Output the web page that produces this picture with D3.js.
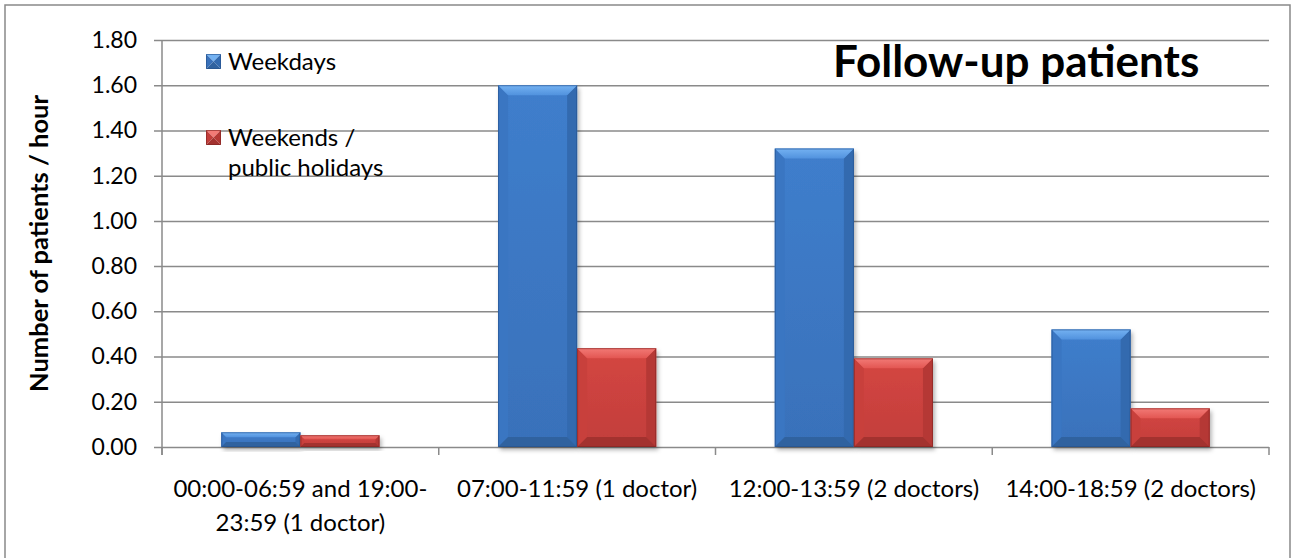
<!DOCTYPE html>
<html>
<head>
<meta charset="utf-8">
<script src="https://cdn.jsdelivr.net/npm/d3@7"></script>
<style>
  html, body { margin: 0; padding: 0; background: #fff; }
  svg { display: block; }
  text { font-family: Lato, "Open Sans", sans-serif; fill: #000; }
</style>
</head>
<body>
<svg id="chart" width="1299" height="558"></svg>
<script>
// Patients per hour by time slot
const categories = ["night", "morning", "midday", "afternoon"];
const categoryLabels = [
  ["00:00-06:59 and 19:00-", "23:59 (1 doctor)"],
  ["07:00-11:59 (1 doctor)"],
  ["12:00-13:59 (2 doctors)"],
  ["14:00-18:59 (2 doctors)"]
];
const seriesNames = ["Weekdays", "Weekends / public holidays"];
const weekdays = [0.065, 1.60, 1.32, 0.52];
const weekends = [0.052, 0.437, 0.392, 0.171];
const yTicks = [0, 0.2, 0.4, 0.6, 0.8, 1.0, 1.2, 1.4, 1.6, 1.8];
const titleText = "Follow-up patients";
const yAxisTitle = "Number of patients / hour";

const svg = d3.select("#chart");
const plot = { left: 162, right: 1269, top: 40, bottom: 447 };
const labelSize = 24;

// palette for bevelled bars: [topFacetLight, topFacetDark, bodyTop, bodyBottom, left, right, bottom]
const palettes = {
  Weekdays: ["#74B2F2", "#5192DE", "#3F7ECC", "#3971BA", "#3A76C2", "#336AAF", "#30629F"],
  "Weekends / public holidays": ["#F27A76", "#E35652", "#D44642", "#C23E3B", "#C8403C", "#B53835", "#A3322F"]
};
const edgeColors = { Weekdays: "#24508A", "Weekends / public holidays": "#7E2321" };

const x0 = d3.scaleBand().domain(categories).range([plot.left, plot.right]).padding(0);
const x1 = d3.scaleBand().domain(seriesNames).range([0, x0.bandwidth()])
  .paddingInner(0).paddingOuter(0.75);
const y = d3.scaleLinear().domain([0, 1.8]).range([plot.bottom, plot.top]);

const defs = svg.append("defs");
const shadow = defs.append("filter").attr("id", "barShadow")
  .attr("x", "-20%").attr("y", "-20%").attr("width", "150%").attr("height", "150%");
shadow.append("feDropShadow").attr("dx", 2).attr("dy", 3)
  .attr("stdDeviation", 2.2).attr("flood-color", "#000").attr("flood-opacity", 0.3);

seriesNames.forEach((s, i) => {
  const p = palettes[s];
  const body = defs.append("linearGradient").attr("id", "body" + i)
    .attr("x1", 0).attr("y1", 0).attr("x2", 0).attr("y2", 1);
  body.append("stop").attr("offset", "0%").attr("stop-color", p[2]);
  body.append("stop").attr("offset", "100%").attr("stop-color", p[3]);
  const top = defs.append("linearGradient").attr("id", "top" + i)
    .attr("x1", 0).attr("y1", 0).attr("x2", 0).attr("y2", 1);
  top.append("stop").attr("offset", "0%").attr("stop-color", p[0]);
  top.append("stop").attr("offset", "100%").attr("stop-color", p[1]);
});

// outer chart border
svg.append("rect").attr("x", 5).attr("y", 5).attr("width", 1285).attr("height", 570)
  .attr("fill", "#fff").attr("stroke", "#898989").attr("stroke-width", 1.5);

// y axis with full-width gridlines
const tickOut = 8;
const yAxis = d3.axisLeft(y).tickValues(yTicks).tickFormat(d3.format(".2f"))
  .tickSizeInner(-(plot.right - plot.left + tickOut)).tickSizeOuter(0).tickPadding(17);
const yg = svg.append("g").attr("transform", `translate(${plot.left - tickOut},0)`).call(yAxis);
yg.select(".domain").remove();
yg.selectAll(".tick line").attr("stroke", "#8A8A8A").attr("stroke-width", 1.5);
yg.selectAll(".tick text").attr("font-family", "Lato").attr("font-size", 23).attr("fill", "#000");

// vertical axis line
svg.append("line").attr("x1", plot.left).attr("x2", plot.left)
  .attr("y1", plot.top).attr("y2", plot.bottom + tickOut)
  .attr("stroke", "#8A8A8A").attr("stroke-width", 1.5);

// category boundary ticks on x axis
const bounds = categories.map(c => x0(c)).concat([x0.range()[1]]);
svg.append("g").selectAll("line").data(bounds).join("line")
  .attr("x1", d => d).attr("x2", d => d)
  .attr("y1", plot.bottom).attr("y2", plot.bottom + tickOut)
  .attr("stroke", "#8A8A8A").attr("stroke-width", 1.5);

// category labels
const xl = svg.append("g");
categories.forEach((c, i) => {
  const cx = x0(c) + x0.bandwidth() / 2;
  const t = xl.append("text").attr("text-anchor", "middle")
    .attr("font-size", labelSize).attr("x", cx).attr("y", 497);
  categoryLabels[i].forEach((line, j) => {
    t.append("tspan").attr("x", cx).attr("dy", j === 0 ? 0 : 34).text(line);
  });
});

// bevelled bar drawing
function drawBar(g, x, yTop, w, h, idx) {
  const p = palettes[seriesNames[idx]];
  const b = Math.min(10, h / 3, w / 4);
  const x2 = x + w, y2 = yTop + h;
  const bar = g.append("g");
  bar.append("rect").attr("x", x).attr("y", yTop).attr("width", w).attr("height", h)
    .attr("fill", `url(#body${idx})`).attr("filter", "url(#barShadow)");
  const poly = (pts, fill) => bar.append("polygon")
    .attr("points", pts.map(q => q.join(",")).join(" ")).attr("fill", fill);
  poly([[x, yTop], [x + b, yTop + b], [x + b, y2 - b], [x, y2]], p[4]);
  poly([[x2, yTop], [x2, y2], [x2 - b, y2 - b], [x2 - b, yTop + b]], p[5]);
  poly([[x, y2], [x + b, y2 - b], [x2 - b, y2 - b], [x2, y2]], p[6]);
  poly([[x, yTop], [x2, yTop], [x2 - b, yTop + b], [x + b, yTop + b]], `url(#top${idx})`);
  bar.append("rect").attr("x", x + 0.5).attr("y", yTop + 0.5).attr("width", w - 1).attr("height", h - 1)
    .attr("fill", "none").attr("stroke", edgeColors[seriesNames[idx]])
    .attr("stroke-opacity", 0.6).attr("stroke-width", 1);
}

const barsG = svg.append("g");
const seriesData = [weekdays, weekends];
seriesData.forEach((vals, si) => {
  vals.forEach((v, ci) => {
    const xx = x0(categories[ci]) + x1(seriesNames[si]);
    drawBar(barsG, xx, y(v), x1.bandwidth(), y(0) - y(v), si);
  });
});

// legend with pyramid-style markers
function marker(g, x, yy, s, idx) {
  const p = palettes[seriesNames[idx]];
  const cx = x + s / 2, cy = yy + s / 2;
  const tri = (pts, fill) => g.append("polygon").attr("points", pts.map(q => q.join(",")).join(" ")).attr("fill", fill);
  tri([[x, yy], [x + s, yy], [cx, cy]], p[0]);
  tri([[x, yy], [cx, cy], [x, yy + s]], p[3]);
  tri([[x + s, yy], [x + s, yy + s], [cx, cy]], p[5]);
  tri([[x, yy + s], [cx, cy], [x + s, yy + s]], p[6]);
  g.append("rect").attr("x", x + 0.5).attr("y", yy + 0.5).attr("width", s - 1).attr("height", s - 1)
    .attr("fill", "none").attr("stroke", edgeColors[seriesNames[idx]]).attr("stroke-opacity", 0.6);
}
const lg = svg.append("g");
marker(lg, 206, 54, 15, 0);
lg.append("text").attr("x", 228).attr("y", 70).attr("font-size", labelSize).text("Weekdays");
marker(lg, 206, 130, 15, 1);
const lt = lg.append("text").attr("x", 228).attr("y", 146).attr("font-size", labelSize);
lt.append("tspan").attr("x", 228).attr("dy", 0).text("Weekends /");
lt.append("tspan").attr("x", 228).attr("dy", 30).text("public holidays");

// chart title
svg.append("text").attr("x", 833).attr("y", 77).attr("font-size", 44)
  .attr("font-weight", "bold").text(titleText);

// y axis title
svg.append("text").attr("transform", `translate(48,${(plot.top + plot.bottom) / 2}) rotate(-90)`)
  .attr("text-anchor", "middle").attr("font-size", 25.5).attr("font-weight", "bold").text(yAxisTitle);
</script>
</body>
</html>
